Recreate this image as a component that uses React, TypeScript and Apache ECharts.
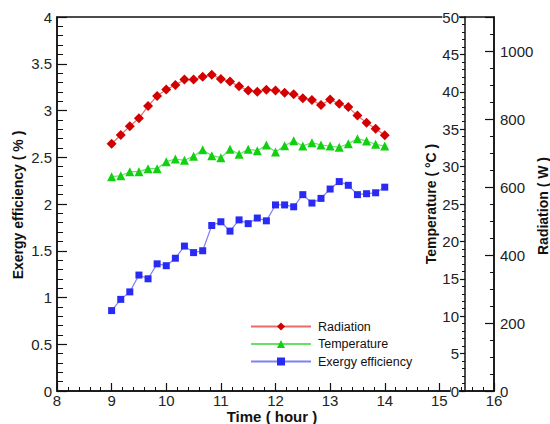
import React, { useEffect, useRef } from "react";
import * as echarts from "echarts";

const times = [
  9.0, 9.167, 9.333, 9.5, 9.667, 9.833, 10.0, 10.167, 10.333, 10.5, 10.667, 10.833,
  11.0, 11.167, 11.333, 11.5, 11.667, 11.833, 12.0, 12.167, 12.333, 12.5, 12.667, 12.833,
  13.0, 13.167, 13.333, 13.5, 13.667, 13.833, 14.0,
];

const radiation = [
  727, 753, 779, 802, 838, 868, 887, 900, 916, 916, 924, 930, 918, 910, 896, 884,
  880, 886, 884, 877, 873, 861, 856, 841, 857, 845, 835, 810, 789, 771, 752,
];

const temperature = [
  28.65, 28.78, 29.32, 29.32, 29.72, 29.72, 30.66, 31.02, 30.84, 31.38, 32.26, 31.46,
  31.19, 32.31, 31.64, 32.31, 32.13, 32.89, 31.95, 32.79, 33.46, 32.75, 33.2, 32.89,
  32.75, 32.58, 33.06, 33.73, 33.42, 32.98, 32.75,
];

const exergy = [
  0.86, 0.98, 1.06, 1.24, 1.2, 1.36, 1.34, 1.42, 1.55, 1.48, 1.5, 1.77, 1.81, 1.71,
  1.83, 1.79, 1.85, 1.82, 1.99, 1.99, 1.97, 2.1, 2.01, 2.06, 2.16, 2.24, 2.2, 2.1,
  2.11, 2.12, 2.18,
];

const seriesNames = ["Radiation", "Temperature", "Exergy efficiency"];
const xTitle = "Time ( hour )";
const exergyTitle = "Exergy efficiency ( % )";
const temperatureTitle = "Temperature ( °C )";
const radiationTitle = "Radiation ( W )";

const FONT = "Arial, 'Liberation Sans', Helvetica, sans-serif";
const AXIS_COLOR = "#111";

export default function App() {
  const ref = useRef<HTMLDivElement>(null);

  useEffect(() => {
    if (!ref.current) return;
    const chart = echarts.init(ref.current, undefined, { renderer: "svg" });

    const zip = (ys: number[]) => times.map((t, i) => [t, ys[i]]);

    const lineAxis = { show: true, onZero: false, lineStyle: { color: AXIS_COLOR, width: 1.5 } };
    const labelStyle = { color: "#222", fontSize: 15, fontFamily: FONT };
    const plain = (v: number) => String(v);

    const title = (text: string, x: number, y: number, vertical: boolean, size = 14) => ({
      type: "text",
      x,
      y,
      rotation: vertical ? Math.PI / 2 : 0,
      z: 10,
      style: {
        text,
        fill: "#111",
        font: `bold ${size}px ${FONT}`,
        lineHeight: size,
        align: "center",
        verticalAlign: "middle",
      },
    });

    chart.setOption({
      animation: false,
      backgroundColor: "#ffffff",
      grid: {
        left: 57,
        right: 56,
        top: 17,
        bottom: 33,
        show: true,
        borderColor: AXIS_COLOR,
        borderWidth: 1.5,
        containLabel: false,
        outerBoundsMode: "none",
      },
      graphic: [
        title(xTitle, 272, 416, false, 15),
        title(exergyTitle, 18, 205, true),
        title(temperatureTitle, 431, 204, true),
        title(radiationTitle, 543, 206, true),
      ],
      legend: {
        orient: "vertical",
        left: 250,
        top: 320,
        padding: 0,
        itemWidth: 60,
        itemHeight: 10,
        itemGap: 4.5,
        data: seriesNames,
        textStyle: { fontSize: 12.5, color: "#111", fontFamily: FONT, padding: [0, 0, 0, 2] },
      },
      xAxis: {
        type: "value",
        min: 8,
        max: 16,
        interval: 1,
        axisLine: lineAxis,
        axisTick: { show: true, inside: true, length: 8, lineStyle: { color: AXIS_COLOR, width: 1.2 } },
        minorTick: { show: true, splitNumber: 5, length: 4, lineStyle: { color: AXIS_COLOR, width: 1 } },
        axisLabel: { ...labelStyle, margin: 2, lineHeight: 15, formatter: plain },
        splitLine: { show: false },
      },
      yAxis: [
        {
          type: "value",
          position: "left",
          min: 0,
          max: 4,
          interval: 0.5,
          axisLine: lineAxis,
          axisTick: { show: true, inside: true, length: 10, lineStyle: { color: AXIS_COLOR, width: 1.2 } },
          minorTick: { show: true, splitNumber: 5, length: 6, lineStyle: { color: AXIS_COLOR, width: 1 } },
          axisLabel: { ...labelStyle, margin: 5, formatter: plain },
          splitLine: { show: false },
        },
        {
          type: "value",
          position: "right",
          offset: -29,
          min: 0,
          max: 50,
          interval: 5,
          axisLine: lineAxis,
          axisTick: { show: true, inside: true, length: 5, lineStyle: { color: AXIS_COLOR, width: 1.2 } },
          minorTick: { show: true, splitNumber: 5, length: 3, lineStyle: { color: AXIS_COLOR, width: 1 } },
          axisLabel: { ...labelStyle, inside: true, margin: 6, backgroundColor: "#ffffff", formatter: plain },
          splitLine: { show: false },
        },
        {
          type: "value",
          position: "right",
          offset: 0,
          min: 0,
          max: 1100,
          interval: 200,
          axisLine: lineAxis,
          axisTick: { show: true, inside: true, length: 9, lineStyle: { color: AXIS_COLOR, width: 1.2 } },
          minorTick: { show: true, splitNumber: 4, length: 4, lineStyle: { color: AXIS_COLOR, width: 1 } },
          axisLabel: { ...labelStyle, margin: 6, showMaxLabel: false, formatter: plain },
          splitLine: { show: false },
        },
      ],
      series: [
        {
          name: seriesNames[0],
          type: "line",
          yAxisIndex: 2,
          data: zip(radiation),
          symbol: "diamond",
          symbolSize: 10,
          itemStyle: { color: "#d40000" },
          lineStyle: { color: "#ee6a6a", width: 1.2 },
          z: 3,
        },
        {
          name: seriesNames[1],
          type: "line",
          yAxisIndex: 1,
          data: zip(temperature),
          symbol: "triangle",
          symbolSize: 9,
          itemStyle: { color: "#10d010" },
          lineStyle: { color: "#66e066", width: 1.2 },
          z: 3,
        },
        {
          name: seriesNames[2],
          type: "line",
          yAxisIndex: 0,
          data: zip(exergy),
          symbol: "rect",
          symbolSize: 7,
          itemStyle: { color: "#2a2af5" },
          lineStyle: { color: "#8080f5", width: 1.2 },
          z: 3,
        },
      ],
    });

    return () => chart.dispose();
  }, []);

  return (
    <div
      ref={ref}
      style={{ position: "fixed", left: 0, top: 0, width: 550, height: 424, background: "#fff" }}
    />
  );
}
